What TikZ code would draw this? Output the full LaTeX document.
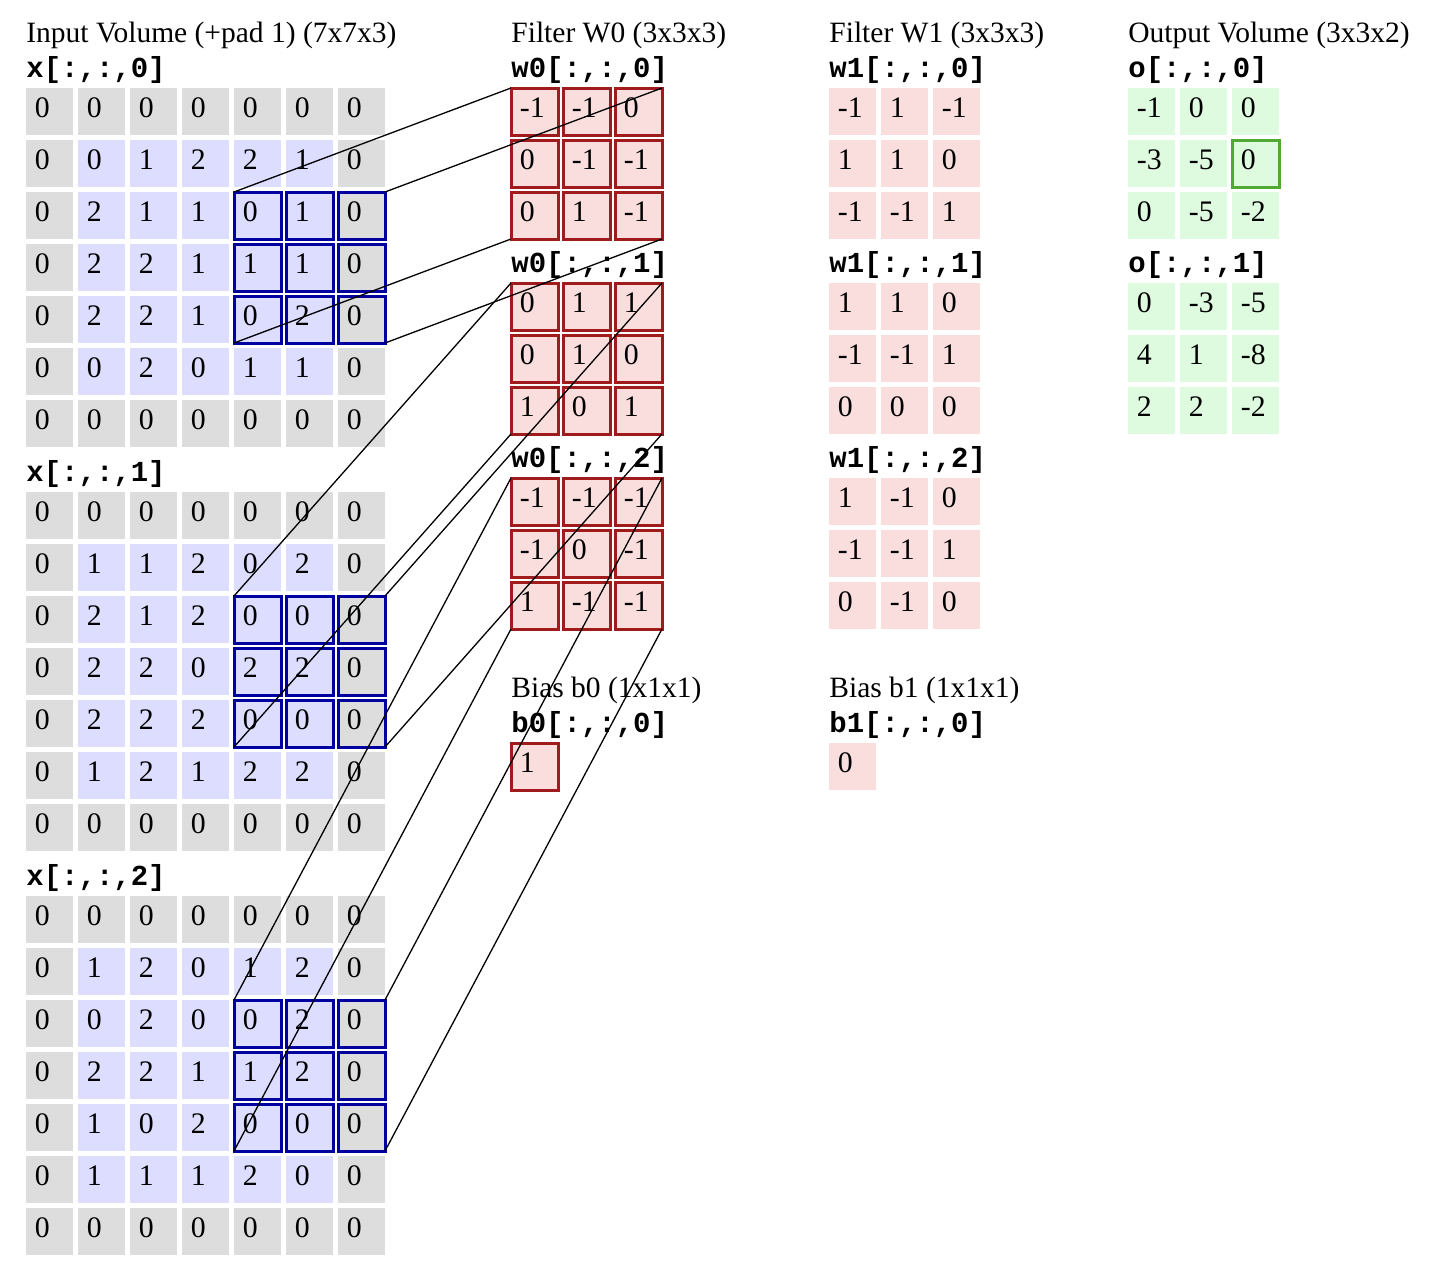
\documentclass[tikz,border=0pt]{standalone}
\usepackage{fontspec}
\setmainfont{Liberation Serif}
\setmonofont{Liberation Mono}
\definecolor{gry}{RGB}{221,221,221}
\definecolor{lav}{RGB}{221,221,255}
\definecolor{pnk}{RGB}{250,222,222}
\definecolor{grn}{RGB}{223,251,223}
\definecolor{bbord}{RGB}{0,0,160}
\definecolor{rbord}{RGB}{160,28,28}
\definecolor{gbord}{RGB}{80,170,50}
\newcommand\ingrid[3]{%
 \foreach \rowdata [count=\ri from 0] in {#3}{%
  \foreach \v [count=\ci from 0] in \rowdata {%
    \pgfmathtruncatemacro\inn{and(and(\ri>0,\ri<6),and(\ci>0,\ci<6))}%
    \pgfmathtruncatemacro\hl{and(and(\ri>1,\ri<5),\ci>3)}%
    \ifnum\inn=1 \def\cf{lav}\else\def\cf{gry}\fi
    \ifnum\hl=1 \def\hs{hlblue}\else\def\hs{hlnone}\fi
    \node[cellbox, fill=\cf, \hs] (x#1-\ri-\ci) at ({26+52*\ci},{#2+52*\ri}) {};
    \node[celltext] (xt#1-\ri-\ci) at ({34.5+52*\ci},{#2+29+52*\ri}) {\v};
  }}}
\newcommand\fgrid[6]{%
 \foreach \rowdata [count=\ri from 0] in {#6}{%
  \foreach \v [count=\ci from 0] in \rowdata {%
    \node[cellbox, fill=#4, #5] (#1-\ri-\ci) at ({#2+52*\ci},{#3+52*\ri}) {};
    \node[celltext] (#1t-\ri-\ci) at ({#2+8.5+52*\ci},{#3+29+52*\ri}) {\v};
  }}}
\begin{document}
\begin{tikzpicture}[x=0.5pt,y=-0.5pt,
  cellbox/.style={rectangle, minimum width=23.5pt, minimum height=23.5pt, inner sep=0pt, outer sep=0pt, anchor=north west},
  celltext/.style={anchor=base west, inner sep=0pt, font=\fontsize{14.9}{18}\selectfont},
  title/.style={anchor=base west, inner sep=0pt, font=\fontsize{14.75}{18}\selectfont},
  mono/.style={anchor=base west, inner sep=0pt, font=\ttfamily\bfseries\fontsize{14.5}{18}\selectfont},
  hlblue/.style={draw=bbord, line width=1.5pt},
  hlred/.style={draw=rbord, line width=1.5pt},
  hlgreen/.style={draw=gbord, line width=1.5pt},
  hlnone/.style={},
  conn/.style={black, line width=0.65pt}]
\fill[white] (0,0) rectangle (1450,1286);
\useasboundingbox (0,0) rectangle (1450,1286);

% titles
\node[title] (tin) at (26,42) {Input Volume (+pad 1) (7x7x3)};
\node[title] (tw0) at (511,42) {Filter W0 (3x3x3)};
\node[title] (tw1) at (829,42) {Filter W1 (3x3x3)};
\node[title] (tout) at (1128,42) {Output Volume (3x3x2)};

% input volume
\node[mono] (lx0) at (26,77.5) {x[:,:,0]};
\ingrid{0}{88}{{0,0,0,0,0,0,0},{0,0,1,2,2,1,0},{0,2,1,1,0,1,0},{0,2,2,1,1,1,0},{0,2,2,1,0,2,0},{0,0,2,0,1,1,0},{0,0,0,0,0,0,0}}
\node[mono] (lx1) at (26,481.5) {x[:,:,1]};
\ingrid{1}{492}{{0,0,0,0,0,0,0},{0,1,1,2,0,2,0},{0,2,1,2,0,0,0},{0,2,2,0,2,2,0},{0,2,2,2,0,0,0},{0,1,2,1,2,2,0},{0,0,0,0,0,0,0}}
\node[mono] (lx2) at (26,885.5) {x[:,:,2]};
\ingrid{2}{896}{{0,0,0,0,0,0,0},{0,1,2,0,1,2,0},{0,0,2,0,0,2,0},{0,2,2,1,1,2,0},{0,1,0,2,0,0,0},{0,1,1,1,2,0,0},{0,0,0,0,0,0,0}}

% filter W0
\node[mono] (lw00) at (511,77.5) {w0[:,:,0]};
\fgrid{wa0}{511}{88}{pnk}{hlred}{{-1,-1,0},{0,-1,-1},{0,1,-1}}
\node[mono] (lw01) at (511,272.5) {w0[:,:,1]};
\fgrid{wa1}{511}{283}{pnk}{hlred}{{0,1,1},{0,1,0},{1,0,1}}
\node[mono] (lw02) at (511,467.5) {w0[:,:,2]};
\fgrid{wa2}{511}{478}{pnk}{hlred}{{-1,-1,-1},{-1,0,-1},{1,-1,-1}}
\node[title] (tb0) at (511,697) {Bias b0 (1x1x1)};
\node[mono] (lb0) at (511,732.5) {b0[:,:,0]};
\node[cellbox, fill=pnk, hlred] (b0) at (511,743) {};
\node[celltext] (b0t) at (519.5,772) {1};

% filter W1
\node[mono] (lw10) at (829,77.5) {w1[:,:,0]};
\fgrid{wb0}{829}{88}{pnk}{hlnone}{{-1,1,-1},{1,1,0},{-1,-1,1}}
\node[mono] (lw11) at (829,272.5) {w1[:,:,1]};
\fgrid{wb1}{829}{283}{pnk}{hlnone}{{1,1,0},{-1,-1,1},{0,0,0}}
\node[mono] (lw12) at (829,467.5) {w1[:,:,2]};
\fgrid{wb2}{829}{478}{pnk}{hlnone}{{1,-1,0},{-1,-1,1},{0,-1,0}}
\node[title] (tb1) at (829,697) {Bias b1 (1x1x1)};
\node[mono] (lb1) at (829,732.5) {b1[:,:,0]};
\node[cellbox, fill=pnk] (b1) at (829,743) {};
\node[celltext] (b1t) at (837.5,772) {0};

% output
\node[mono] (lo0) at (1128,77.5) {o[:,:,0]};
\fgrid{o0}{1128}{88}{grn}{hlnone}{{-1,0,0},{-3,-5,0},{0,-5,-2}}
\node[mono] (lo1) at (1128,272.5) {o[:,:,1]};
\fgrid{o1}{1128}{283}{grn}{hlnone}{{0,-3,-5},{4,1,-8},{2,2,-2}}
\draw[gbord, line width=1.5pt] (o0-1-2.north west) rectangle (o0-1-2.south east);

% connectors
\foreach \s in {0,1,2}{
  \draw[conn] (x\s-2-4.north west) -- (wa\s-0-0.north west);
  \draw[conn] (x\s-2-6.north east) -- (wa\s-0-2.north east);
  \draw[conn] (x\s-4-4.south west) -- (wa\s-2-0.south west);
  \draw[conn] (x\s-4-6.south east) -- (wa\s-2-2.south east);
}
\end{tikzpicture}
\end{document}
